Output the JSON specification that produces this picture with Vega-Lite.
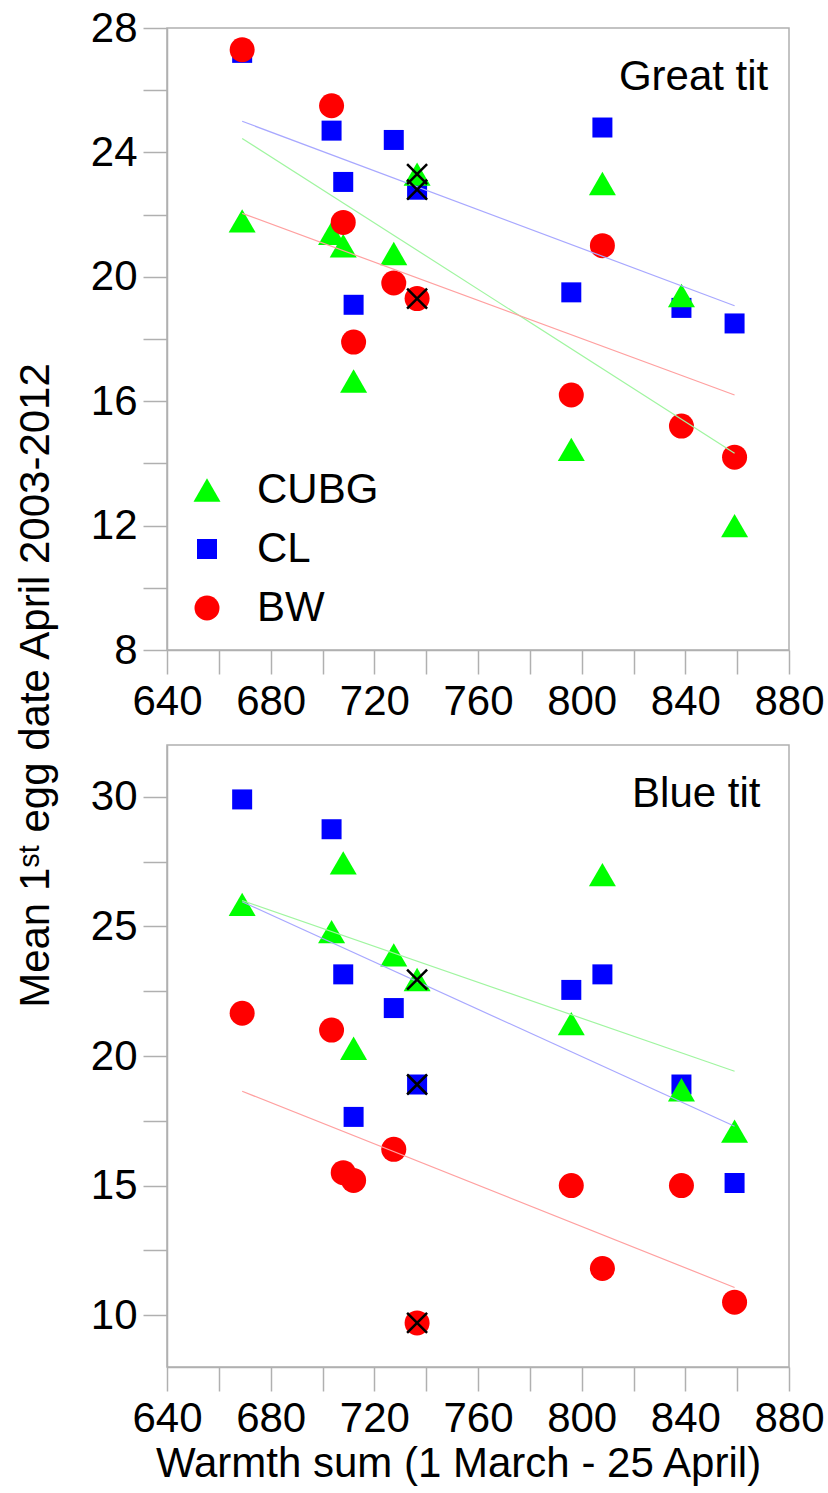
{
  "$schema": "https://vega.github.io/schema/vega-lite/v6.json",
  "padding": {"left": 14, "top": 6, "right": 5, "bottom": 2},
  "spacing": 21,
  "title": {"text": "Mean 1ˢᵗ egg date April 2003-2012", "orient": "left", "anchor": "middle", "fontSize": 42, "font": "Liberation Sans", "fontWeight": "normal", "color": "black", "offset": 32, "dx": 60},
  "datasets": {
    "points": [
      {"panel": "Great tit", "site": "CL", "x": 669, "y": 27.2, "marked": false},
      {"panel": "Great tit", "site": "CL", "x": 703.5, "y": 24.7, "marked": false},
      {"panel": "Great tit", "site": "CL", "x": 708, "y": 23.05, "marked": false},
      {"panel": "Great tit", "site": "CL", "x": 712, "y": 19.1, "marked": false},
      {"panel": "Great tit", "site": "CL", "x": 727.5, "y": 24.4, "marked": false},
      {"panel": "Great tit", "site": "CL", "x": 736.5, "y": 22.8, "marked": true},
      {"panel": "Great tit", "site": "CL", "x": 796, "y": 19.5, "marked": false},
      {"panel": "Great tit", "site": "CL", "x": 808, "y": 24.8, "marked": false},
      {"panel": "Great tit", "site": "CL", "x": 838.5, "y": 19.0, "marked": false},
      {"panel": "Great tit", "site": "CL", "x": 859, "y": 18.5, "marked": false},
      {"panel": "Great tit", "site": "CUBG", "x": 669, "y": 21.8, "marked": false},
      {"panel": "Great tit", "site": "CUBG", "x": 703.5, "y": 21.4, "marked": false},
      {"panel": "Great tit", "site": "CUBG", "x": 708, "y": 21.0, "marked": false},
      {"panel": "Great tit", "site": "CUBG", "x": 712, "y": 16.65, "marked": false},
      {"panel": "Great tit", "site": "CUBG", "x": 727.5, "y": 20.75, "marked": false},
      {"panel": "Great tit", "site": "CUBG", "x": 736.5, "y": 23.3, "marked": true},
      {"panel": "Great tit", "site": "CUBG", "x": 796, "y": 14.45, "marked": false},
      {"panel": "Great tit", "site": "CUBG", "x": 808, "y": 23.0, "marked": false},
      {"panel": "Great tit", "site": "CUBG", "x": 838.5, "y": 19.4, "marked": false},
      {"panel": "Great tit", "site": "CUBG", "x": 859, "y": 12.0, "marked": false},
      {"panel": "Great tit", "site": "BW", "x": 669, "y": 27.3, "marked": false},
      {"panel": "Great tit", "site": "BW", "x": 703.5, "y": 25.5, "marked": false},
      {"panel": "Great tit", "site": "BW", "x": 708, "y": 21.75, "marked": false},
      {"panel": "Great tit", "site": "BW", "x": 712, "y": 17.9, "marked": false},
      {"panel": "Great tit", "site": "BW", "x": 727.5, "y": 19.8, "marked": false},
      {"panel": "Great tit", "site": "BW", "x": 736.5, "y": 19.3, "marked": true},
      {"panel": "Great tit", "site": "BW", "x": 796, "y": 16.2, "marked": false},
      {"panel": "Great tit", "site": "BW", "x": 808, "y": 21.0, "marked": false},
      {"panel": "Great tit", "site": "BW", "x": 838.5, "y": 15.2, "marked": false},
      {"panel": "Great tit", "site": "BW", "x": 859, "y": 14.2, "marked": false},
      {"panel": "Blue tit", "site": "CL", "x": 669, "y": 29.9, "marked": false},
      {"panel": "Blue tit", "site": "CL", "x": 703.5, "y": 28.75, "marked": false},
      {"panel": "Blue tit", "site": "CL", "x": 708, "y": 23.15, "marked": false},
      {"panel": "Blue tit", "site": "CL", "x": 712, "y": 17.65, "marked": false},
      {"panel": "Blue tit", "site": "CL", "x": 727.5, "y": 21.85, "marked": false},
      {"panel": "Blue tit", "site": "CL", "x": 736.5, "y": 18.9, "marked": true},
      {"panel": "Blue tit", "site": "CL", "x": 796, "y": 22.55, "marked": false},
      {"panel": "Blue tit", "site": "CL", "x": 808, "y": 23.15, "marked": false},
      {"panel": "Blue tit", "site": "CL", "x": 838.5, "y": 18.9, "marked": false},
      {"panel": "Blue tit", "site": "CL", "x": 859, "y": 15.1, "marked": false},
      {"panel": "Blue tit", "site": "CUBG", "x": 669, "y": 25.85, "marked": false},
      {"panel": "Blue tit", "site": "CUBG", "x": 703.5, "y": 24.8, "marked": false},
      {"panel": "Blue tit", "site": "CUBG", "x": 708, "y": 27.45, "marked": false},
      {"panel": "Blue tit", "site": "CUBG", "x": 712, "y": 20.3, "marked": false},
      {"panel": "Blue tit", "site": "CUBG", "x": 727.5, "y": 23.9, "marked": false},
      {"panel": "Blue tit", "site": "CUBG", "x": 736.5, "y": 22.95, "marked": true},
      {"panel": "Blue tit", "site": "CUBG", "x": 796, "y": 21.25, "marked": false},
      {"panel": "Blue tit", "site": "CUBG", "x": 808, "y": 27.0, "marked": false},
      {"panel": "Blue tit", "site": "CUBG", "x": 838.5, "y": 18.7, "marked": false},
      {"panel": "Blue tit", "site": "CUBG", "x": 859, "y": 17.1, "marked": false},
      {"panel": "Blue tit", "site": "BW", "x": 669, "y": 21.65, "marked": false},
      {"panel": "Blue tit", "site": "BW", "x": 703.5, "y": 21.0, "marked": false},
      {"panel": "Blue tit", "site": "BW", "x": 708, "y": 15.5, "marked": false},
      {"panel": "Blue tit", "site": "BW", "x": 712, "y": 15.2, "marked": false},
      {"panel": "Blue tit", "site": "BW", "x": 727.5, "y": 16.4, "marked": false},
      {"panel": "Blue tit", "site": "BW", "x": 736.5, "y": 9.7, "marked": true},
      {"panel": "Blue tit", "site": "BW", "x": 796, "y": 15.0, "marked": false},
      {"panel": "Blue tit", "site": "BW", "x": 808, "y": 11.8, "marked": false},
      {"panel": "Blue tit", "site": "BW", "x": 838.5, "y": 15.0, "marked": false},
      {"panel": "Blue tit", "site": "BW", "x": 859, "y": 10.5, "marked": false}
    ],
    "lines": [
      {"panel": "Great tit", "site": "CL", "x": 669, "y": 25.0},
      {"panel": "Great tit", "site": "CL", "x": 859, "y": 19.07},
      {"panel": "Great tit", "site": "CUBG", "x": 669, "y": 24.45},
      {"panel": "Great tit", "site": "CUBG", "x": 859, "y": 14.33},
      {"panel": "Great tit", "site": "BW", "x": 669, "y": 22.04},
      {"panel": "Great tit", "site": "BW", "x": 859, "y": 16.2},
      {"panel": "Blue tit", "site": "CL", "x": 669, "y": 25.95},
      {"panel": "Blue tit", "site": "CL", "x": 859, "y": 17.29},
      {"panel": "Blue tit", "site": "CUBG", "x": 669, "y": 26.0},
      {"panel": "Blue tit", "site": "CUBG", "x": 859, "y": 19.41},
      {"panel": "Blue tit", "site": "BW", "x": 669, "y": 18.64},
      {"panel": "Blue tit", "site": "BW", "x": 859, "y": 11.07}
    ]
  },
  "vconcat": [
    {
      "width": 622,
      "height": 622,
      "layer": [
        {
          "data": {"name": "points"},
          "transform": [{"filter": "datum.panel === 'Great tit'"}],
          "mark": {"type": "point", "filled": true, "opacity": 1, "strokeWidth": 0},
          "encoding": {
            "x": {"field": "x", "type": "quantitative", "scale": {"domain": [640, 880], "nice": false, "zero": false},
              "axis": {"title": null, "values": [640, 660, 680, 700, 720, 740, 760, 780, 800, 820, 840, 860, 880],
                "labelExpr": "datum.value % 40 === 0 ? datum.label : ''", "tickSize": 24, "labelPadding": 7,
                "encode": {"ticks": {"update": {"y2": {"signal": "datum.value % 40 === 0 ? 24 : 12"}}}}}},
            "y": {"field": "y", "type": "quantitative", "scale": {"domain": [8, 28], "nice": false, "zero": false},
              "axis": {"title": null, "values": [8, 10, 12, 14, 16, 18, 20, 22, 24, 26, 28],
                "labelExpr": "datum.value % 4 === 0 ? datum.label : ''", "tickSize": 24, "labelPadding": 6,
                "encode": {"ticks": {"update": {"x2": {"signal": "datum.value % 4 === 0 ? -24 : -12"}}}}}},
            "color": {"field": "site", "type": "nominal", "scale": {"domain": ["CUBG", "CL", "BW"], "range": ["#00ff00", "#0000ff", "#ff0000"]},
              "legend": {"orient": "none", "legendX": 19, "legendY": 441, "title": null}},
            "shape": {"field": "site", "type": "nominal", "scale": {"domain": ["CUBG", "CL", "BW"], "range": ["triangle-up", "square", "circle"]},
              "legend": {"orient": "none", "legendX": 19, "legendY": 441, "title": null}},
            "size": {"field": "site", "type": "nominal", "scale": {"type": "ordinal", "domain": ["CUBG", "CL", "BW"], "range": [729, 400, 625]},
              "legend": {"orient": "none", "legendX": 19, "legendY": 441, "title": null}}
          }
        },
        {
          "data": {"name": "lines"},
          "transform": [{"filter": "datum.panel === 'Great tit'"}],
          "mark": {"type": "line", "strokeWidth": 1.2},
          "encoding": {
            "x": {"field": "x", "type": "quantitative"},
            "y": {"field": "y", "type": "quantitative"},
            "stroke": {"field": "site", "type": "nominal", "scale": {"domain": ["CUBG", "CL", "BW"], "range": ["#a0f5a0", "#a8a8ff", "#ffa0a0"]}, "legend": null},
            "detail": {"field": "site", "type": "nominal"}
          }
        },
        {
          "data": {"name": "points"},
          "transform": [{"filter": "datum.panel === 'Great tit' && datum.marked"}],
          "mark": {"type": "point", "shape": "M-1,-1L1,1M1,-1L-1,1", "filled": false, "stroke": "black", "strokeWidth": 2.5, "size": 400, "opacity": 1},
          "encoding": {
            "x": {"field": "x", "type": "quantitative"},
            "y": {"field": "y", "type": "quantitative"}
          }
        },
        {
          "data": {"values": [{"label": "Great tit"}]},
          "mark": {"type": "text", "align": "right", "baseline": "alphabetic", "fontSize": 42, "font": "Liberation Sans", "color": "black"},
          "encoding": {
            "x": {"datum": 872},
            "y": {"datum": 26},
            "text": {"field": "label", "type": "nominal"}
          }
        }
      ]
    },
    {
      "width": 622,
      "height": 622,
      "layer": [
        {
          "data": {"name": "points"},
          "transform": [{"filter": "datum.panel === 'Blue tit'"}],
          "mark": {"type": "point", "filled": true, "opacity": 1, "strokeWidth": 0},
          "encoding": {
            "x": {"field": "x", "type": "quantitative", "scale": {"domain": [640, 880], "nice": false, "zero": false},
              "axis": {"title": "Warmth sum (1 March - 25 April)", "values": [640, 660, 680, 700, 720, 740, 760, 780, 800, 820, 840, 860, 880],
                "labelExpr": "datum.value % 40 === 0 ? datum.label : ''", "tickSize": 24, "labelPadding": 7, "titlePadding": 4, "titleFontSize": 42, "titleX": 291,
                "encode": {"ticks": {"update": {"y2": {"signal": "datum.value % 40 === 0 ? 24 : 12"}}}}}},
            "y": {"field": "y", "type": "quantitative", "scale": {"domain": [8, 32], "nice": false, "zero": false},
              "axis": {"title": null, "values": [10, 12.5, 15, 17.5, 20, 22.5, 25, 27.5, 30],
                "labelExpr": "datum.value % 5 === 0 ? datum.label : ''", "tickSize": 24, "labelPadding": 6,
                "encode": {"ticks": {"update": {"x2": {"signal": "datum.value % 5 === 0 ? -24 : -12"}}}}}},
            "color": {"field": "site", "type": "nominal", "scale": {"domain": ["CUBG", "CL", "BW"], "range": ["#00ff00", "#0000ff", "#ff0000"]}, "legend": null},
            "shape": {"field": "site", "type": "nominal", "scale": {"domain": ["CUBG", "CL", "BW"], "range": ["triangle-up", "square", "circle"]}, "legend": null},
            "size": {"field": "site", "type": "nominal", "scale": {"type": "ordinal", "domain": ["CUBG", "CL", "BW"], "range": [729, 400, 625]}, "legend": null}
          }
        },
        {
          "data": {"name": "lines"},
          "transform": [{"filter": "datum.panel === 'Blue tit'"}],
          "mark": {"type": "line", "strokeWidth": 1.2},
          "encoding": {
            "x": {"field": "x", "type": "quantitative"},
            "y": {"field": "y", "type": "quantitative"},
            "stroke": {"field": "site", "type": "nominal", "scale": {"domain": ["CUBG", "CL", "BW"], "range": ["#a0f5a0", "#a8a8ff", "#ffa0a0"]}, "legend": null},
            "detail": {"field": "site", "type": "nominal"}
          }
        },
        {
          "data": {"name": "points"},
          "transform": [{"filter": "datum.panel === 'Blue tit' && datum.marked"}],
          "mark": {"type": "point", "shape": "M-1,-1L1,1M1,-1L-1,1", "filled": false, "stroke": "black", "strokeWidth": 2.5, "size": 400, "opacity": 1},
          "encoding": {
            "x": {"field": "x", "type": "quantitative"},
            "y": {"field": "y", "type": "quantitative"}
          }
        },
        {
          "data": {"values": [{"label": "Blue tit"}]},
          "mark": {"type": "text", "align": "right", "baseline": "alphabetic", "fontSize": 42, "font": "Liberation Sans", "color": "black"},
          "encoding": {
            "x": {"datum": 869},
            "y": {"datum": 29.6},
            "text": {"field": "label", "type": "nominal"}
          }
        }
      ]
    }
  ],
  "resolve": {"legend": {"color": "independent", "shape": "independent", "size": "independent"}},
  "config": {
    "view": {"stroke": "#b0b0b0", "strokeWidth": 1.5},
    "axis": {"grid": false, "domainColor": "#b0b0b0", "domainWidth": 1.5, "tickColor": "#b0b0b0", "tickWidth": 1.5,
      "labelFont": "Liberation Sans", "labelFontSize": 42, "labelColor": "black", "labelOverlap": false, "labelFlush": false,
      "titleFont": "Liberation Sans", "titleFontSize": 42, "titleFontWeight": "normal", "titleColor": "black"},
    "legend": {"labelFont": "Liberation Sans", "labelFontSize": 42, "labelColor": "black", "symbolStrokeWidth": 0, "symbolOpacity": 1,
      "labelOffset": 29, "rowPadding": 17}
  }
}
